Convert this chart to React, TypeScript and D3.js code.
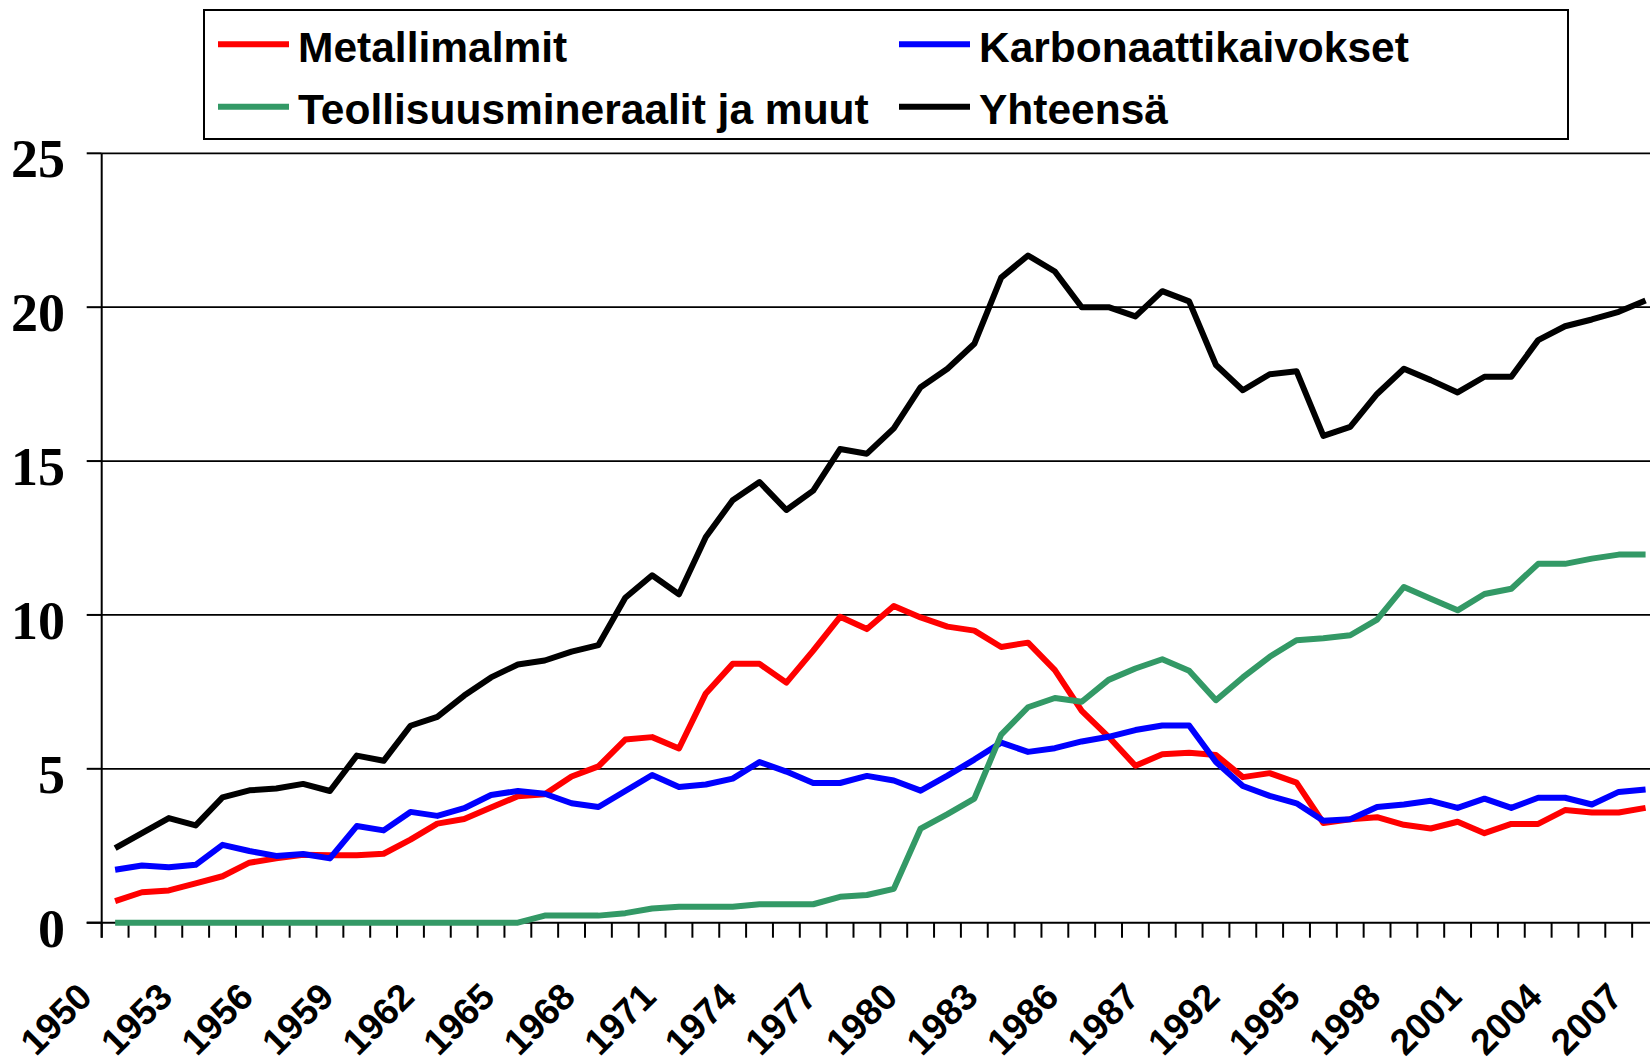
import { useEffect, useRef } from 'react'
import * as d3 from 'd3'

const WIDTH = 1650
const HEIGHT = 1062
const PLOT_LEFT = 101.7
const BAND = 26.85
const Y_ZERO = 922.7
const Y_TOP = 153.3

// categories: yearly values 1950..2007
const YEARS = d3.range(1950, 2008)

// labels shown under every third category (as printed in the original)
const TICK_LABELS = [
  '1950', '1953', '1956', '1959', '1962', '1965', '1968', '1971', '1974', '1977',
  '1980', '1983', '1986', '1987', '1992', '1995', '1998', '2001', '2004', '2007',
]

const Y_TICKS = [0, 5, 10, 15, 20, 25]

const METALLIMALMIT = [
  0.7, 0.99, 1.05, 1.28, 1.51, 1.95, 2.09, 2.21, 2.19, 2.19,
  2.24, 2.7, 3.22, 3.37, 3.74, 4.11, 4.17, 4.75, 5.08, 5.95,
  6.03, 5.66, 7.45, 8.41, 8.41, 7.8, 8.84, 9.94, 9.54, 10.29,
  9.92, 9.62, 9.49, 8.96, 9.1, 8.21, 6.88, 6.04, 5.1, 5.47,
  5.52, 5.45, 4.73, 4.86, 4.55, 3.24, 3.36, 3.43, 3.18, 3.06,
  3.28, 2.91, 3.21, 3.21, 3.66, 3.58, 3.58, 3.73,
]

const KARBONAATTIKAIVOKSET = [
  1.72, 1.86, 1.8, 1.88, 2.53, 2.33, 2.17, 2.23, 2.09, 3.14,
  3.0, 3.6, 3.47, 3.72, 4.15, 4.28, 4.19, 3.88, 3.76, 4.28,
  4.8, 4.41, 4.49, 4.68, 5.22, 4.91, 4.54, 4.54, 4.77, 4.62,
  4.29, 4.78, 5.3, 5.85, 5.55, 5.67, 5.89, 6.04, 6.26, 6.41,
  6.41, 5.22, 4.44, 4.12, 3.88, 3.31, 3.36, 3.76, 3.84, 3.96,
  3.73, 4.03, 3.73, 4.06, 4.06, 3.84, 4.25, 4.33,
]

const TEOLLISUUSMINERAALIT = [
  0, 0, 0, 0, 0, 0, 0, 0, 0, 0,
  0, 0, 0, 0, 0, 0, 0.23, 0.23, 0.23, 0.31,
  0.46, 0.52, 0.52, 0.52, 0.6, 0.6, 0.6, 0.84, 0.9, 1.1,
  3.06, 3.53, 4.03, 6.11, 7.0, 7.3, 7.18, 7.89, 8.26, 8.56,
  8.19, 7.23, 7.97, 8.64, 9.18, 9.24, 9.34, 9.85, 10.91, 10.53,
  10.15, 10.68, 10.85, 11.66, 11.66, 11.83, 11.96, 11.96,
]

const YHTEENSA = [
  2.42, 2.91, 3.4, 3.16, 4.07, 4.3, 4.36, 4.51, 4.28, 5.43,
  5.26, 6.4, 6.69, 7.38, 7.97, 8.39, 8.52, 8.81, 9.02, 10.56,
  11.29, 10.67, 12.53, 13.73, 14.32, 13.41, 14.04, 15.39, 15.24, 16.06,
  17.4, 18.0, 18.81, 20.96, 21.68, 21.16, 20.0, 20.0, 19.7, 20.52,
  20.19, 18.12, 17.3, 17.82, 17.92, 15.82, 16.11, 17.18, 18.0, 17.63,
  17.23, 17.74, 17.74, 18.93, 19.38, 19.6, 19.85, 20.22,
]

const SERIES = [
  { name: 'Metallimalmit', color: '#ff0000', values: METALLIMALMIT },
  { name: 'Karbonaattikaivokset', color: '#0000ff', values: KARBONAATTIKAIVOKSET },
  { name: 'Teollisuusmineraalit ja muut', color: '#339966', values: TEOLLISUUSMINERAALIT },
  { name: 'Yhteensä', color: '#000000', values: YHTEENSA },
]

const SANS = '"Liberation Sans", Arial, sans-serif'
const SERIF = '"Liberation Serif", "Times New Roman", serif'

function App() {
  const svgRef = useRef<SVGSVGElement>(null)

  useEffect(() => {
    const el = svgRef.current
    if (!el) return
    const svg = d3.select(el)
    svg.selectAll('*').remove()

    const x = d3
      .scaleBand<number>()
      .domain(YEARS)
      .range([PLOT_LEFT, PLOT_LEFT + BAND * YEARS.length])
      .padding(0)
    const bw = x.bandwidth()
    const cx = (yr: number) => (x(yr) ?? 0) + bw / 2

    const y = d3.scaleLinear().domain([0, 25]).range([Y_ZERO, Y_TOP])

    svg.append('rect').attr('width', WIDTH).attr('height', HEIGHT).attr('fill', '#fff')

    // gridlines
    svg
      .append('g')
      .selectAll('line')
      .data(Y_TICKS.filter((t) => t > 0))
      .join('line')
      .attr('x1', PLOT_LEFT)
      .attr('x2', WIDTH)
      .attr('y1', (d) => y(d))
      .attr('y2', (d) => y(d))
      .attr('stroke', '#000')
      .attr('stroke-width', 1.8)

    // y axis
    svg
      .append('line')
      .attr('x1', PLOT_LEFT)
      .attr('x2', PLOT_LEFT)
      .attr('y1', y(25))
      .attr('y2', y(0) + 15)
      .attr('stroke', '#000')
      .attr('stroke-width', 2)

    const yTicks = svg.append('g')
    yTicks
      .selectAll('line')
      .data(Y_TICKS)
      .join('line')
      .attr('x1', PLOT_LEFT - 15)
      .attr('x2', PLOT_LEFT)
      .attr('y1', (d) => y(d))
      .attr('y2', (d) => y(d))
      .attr('stroke', '#000')
      .attr('stroke-width', 2)
    yTicks
      .selectAll('text')
      .data(Y_TICKS)
      .join('text')
      .attr('x', 65)
      .attr('y', (d) => y(d) + 24)
      .attr('text-anchor', 'end')
      .attr('font-family', SERIF)
      .attr('font-weight', 'bold')
      .attr('font-size', 54)
      .text((d) => d)

    // x axis
    const xRight = x.range()[1]
    svg
      .append('line')
      .attr('x1', PLOT_LEFT - 15)
      .attr('x2', xRight)
      .attr('y1', y(0))
      .attr('y2', y(0))
      .attr('stroke', '#000')
      .attr('stroke-width', 2)

    const edges = [...YEARS.map((yr) => x(yr) ?? 0), xRight]
    svg
      .append('g')
      .selectAll('line')
      .data(edges)
      .join('line')
      .attr('x1', (d) => d)
      .attr('x2', (d) => d)
      .attr('y1', y(0))
      .attr('y2', y(0) + 15)
      .attr('stroke', '#000')
      .attr('stroke-width', 2)

    const labelled = YEARS.filter((_, i) => i % 3 === 0)
    svg
      .append('g')
      .selectAll('text')
      .data(labelled)
      .join('text')
      .attr('transform', (d) => `translate(${cx(d) - 21},999) rotate(-45)`)
      .attr('text-anchor', 'end')
      .attr('font-family', SANS)
      .attr('font-weight', 'bold')
      .attr('font-size', 37)
      .text((_, i) => TICK_LABELS[i])

    // series
    const line = d3
      .line<number>()
      .x((_, i) => cx(YEARS[i]))
      .y((d) => y(d))

    svg
      .append('g')
      .selectAll('path')
      .data(SERIES)
      .join('path')
      .attr('d', (s) => line(s.values) ?? '')
      .attr('fill', 'none')
      .attr('stroke', (s) => s.color)
      .attr('stroke-width', 6)
      .attr('stroke-linejoin', 'round')

    // legend
    const legend = svg.append('g')
    legend
      .append('rect')
      .attr('x', 204)
      .attr('y', 10)
      .attr('width', 1364)
      .attr('height', 129)
      .attr('fill', '#fff')
      .attr('stroke', '#000')
      .attr('stroke-width', 2)

    const colX = [218, 899]
    const rowY = [44.3, 106.7]
    SERIES.forEach((s, i) => {
      const lx = colX[i % 2]
      const ly = rowY[Math.floor(i / 2)]
      legend
        .append('line')
        .attr('x1', lx)
        .attr('x2', lx + 71)
        .attr('y1', ly)
        .attr('y2', ly)
        .attr('stroke', s.color)
        .attr('stroke-width', 6)
      legend
        .append('text')
        .attr('x', lx + 80)
        .attr('y', ly + 17.4)
        .attr('font-family', SANS)
        .attr('font-weight', 'bold')
        .attr('font-size', 42.5)
        .text(s.name)
    })
  }, [])

  return (
    <svg
      ref={svgRef}
      width={WIDTH}
      height={HEIGHT}
      style={{ position: 'absolute', left: 0, top: 0, display: 'block' }}
    />
  )
}

export default App
